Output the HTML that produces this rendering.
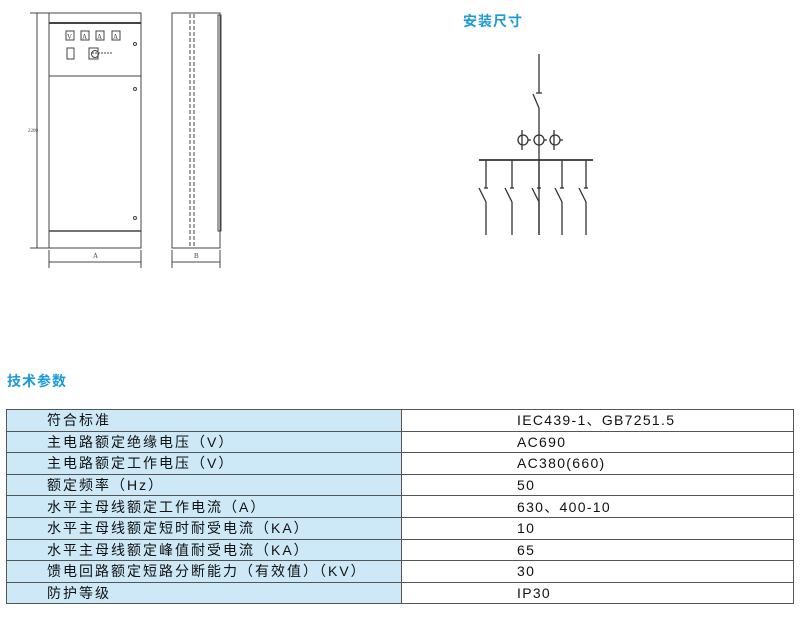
<!DOCTYPE html>
<html><head><meta charset="utf-8"><style>
body{margin:0;background:#fff;width:800px;height:619px;overflow:hidden;position:relative;font-family:"Liberation Sans","Noto Sans CJK SC",sans-serif}
.t{position:absolute;color:#1b9ad8;font-weight:bold;font-size:14px;letter-spacing:1px}
table{position:absolute;left:6px;top:409px;width:788px;border-collapse:collapse;font-size:14px;color:#111}
td{border:1px solid #555;height:20.6px;padding:0;line-height:20px;white-space:nowrap}
td.l{background:#cde9f8;width:395px;padding-left:40px;box-sizing:border-box;letter-spacing:2px}
td.r{padding-left:115px;letter-spacing:1.3px}
</style></head><body>
<div class="t" style="left:463px;top:11px">安装尺寸</div>
<div class="t" style="left:7px;top:371px">技术参数</div>
<svg width="800" height="360" style="position:absolute;left:0;top:0" fill="none" stroke="#444" stroke-width="1">
<rect x="49" y="13" width="92" height="235"/>
<line x1="49" y1="23" x2="141" y2="23" stroke-width="2"/>
<line x1="49" y1="76" x2="141" y2="76"/>
<line x1="49" y1="231" x2="141" y2="231" stroke-width="1.5"/>
<rect x="66" y="31" width="8" height="9"/><rect x="81" y="31" width="8" height="9"/><rect x="96" y="31" width="8" height="9"/><rect x="112" y="31" width="8" height="9"/>
<g font-size="7" fill="#444" stroke="none" font-family="Liberation Serif"><text x="67" y="39">V</text><text x="82" y="39">A</text><text x="97" y="39">A</text><text x="113" y="39">A</text><text x="28" y="132" font-size="5">2200</text><text x="93" y="258">A</text><text x="194" y="258">B</text></g>
<rect x="67" y="48" width="7" height="11"/>
<rect x="89" y="48" width="9" height="11"/><circle cx="95" cy="54" r="3.5"/><line x1="92" y1="53" x2="112" y2="53" stroke-dasharray="2 1"/>
<circle cx="135" cy="44" r="1.5"/><circle cx="135" cy="89" r="1.5"/><circle cx="135" cy="218" r="1.5"/>
<line x1="37" y1="13" x2="37" y2="248"/><line x1="30" y1="13" x2="49" y2="13"/><line x1="30" y1="248" x2="49" y2="248"/>
<line x1="49" y1="262" x2="141" y2="262"/><line x1="49" y1="250" x2="49" y2="268"/><line x1="141" y1="250" x2="141" y2="268"/>
<rect x="172" y="13" width="48" height="235"/>
<line x1="190" y1="14" x2="190" y2="247" stroke-dasharray="4 2"/><line x1="194" y1="14" x2="194" y2="247" stroke-dasharray="4 2"/>
<rect x="218" y="15" width="3" height="216"/>
<line x1="172" y1="262" x2="220" y2="262"/><line x1="172" y1="250" x2="172" y2="268"/><line x1="220" y1="250" x2="220" y2="268"/>
<g stroke="#333" stroke-width="1.3">
<line x1="539" y1="54" x2="539" y2="93"/><line x1="536" y1="93" x2="542" y2="93"/>
<line x1="533" y1="94" x2="539" y2="108"/><line x1="539" y1="108" x2="539" y2="235"/>
<line x1="479" y1="160" x2="593" y2="160" stroke-width="1.8"/>
<circle cx="523" cy="140" r="5"/><circle cx="539" cy="140" r="5"/><circle cx="555" cy="140" r="5"/>
<line x1="522" y1="130" x2="522" y2="150"/><line x1="554" y1="130" x2="554" y2="150"/>
<line x1="528" y1="140" x2="531" y2="140"/><line x1="544" y1="140" x2="547" y2="140"/><line x1="560" y1="140" x2="563" y2="140"/>
<g id="b"><line x1="486" y1="160" x2="486" y2="188"/><line x1="484" y1="188" x2="488" y2="188"/><line x1="479" y1="188" x2="486" y2="202"/><line x1="486" y1="202" x2="486" y2="235"/></g>
<use href="#b" x="26"/><use href="#b" x="53"/><use href="#b" x="76"/><use href="#b" x="100"/>
</g>
</svg>
<table>
<tr><td class="l">符合标准</td><td class="r">IEC439-1、GB7251.5</td></tr>
<tr><td class="l">主电路额定绝缘电压（V）</td><td class="r">AC690</td></tr>
<tr><td class="l">主电路额定工作电压（V）</td><td class="r">AC380(660)</td></tr>
<tr><td class="l">额定频率（Hz）</td><td class="r">50</td></tr>
<tr><td class="l">水平主母线额定工作电流（A）</td><td class="r">630、400-10</td></tr>
<tr><td class="l">水平主母线额定短时耐受电流（KA）</td><td class="r">10</td></tr>
<tr><td class="l">水平主母线额定峰值耐受电流（KA）</td><td class="r">65</td></tr>
<tr><td class="l">馈电回路额定短路分断能力（有效值）（KV）</td><td class="r">30</td></tr>
<tr><td class="l">防护等级</td><td class="r">IP30</td></tr>
</table>
</body></html>
